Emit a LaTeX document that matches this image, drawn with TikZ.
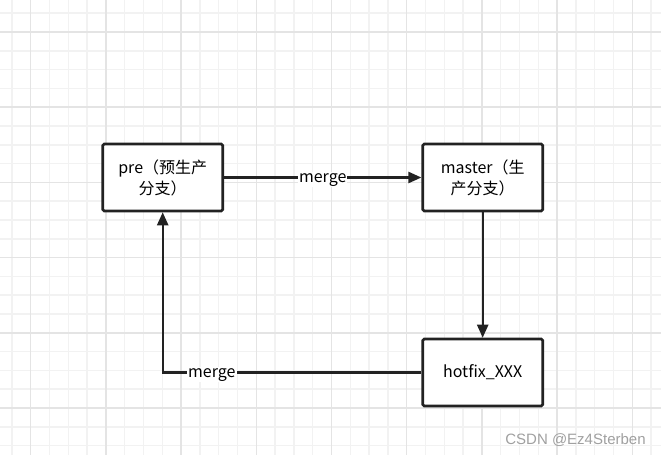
\documentclass[tikz,border=0pt]{standalone}
\usepackage{fontspec}
\setmainfont{Noto Sans CJK SC}
\newfontfamily\markfont{Liberation Sans}
\usetikzlibrary{positioning, arrows.meta}
\definecolor{gridminor}{HTML}{F2F2F2}
\definecolor{gridmajor}{HTML}{E4E4E4}
\definecolor{boxline}{HTML}{222222}
\definecolor{wmgray}{HTML}{A0A0A0}

\begin{document}
\begin{tikzpicture}[x=1pt,y=-1pt,>={Triangle[length=13pt,width=11pt]},
            branch/.style={draw=boxline,line width=2.6pt,rounded corners=1.5pt,
              fill=white,minimum width=120pt,minimum height=67pt,align=center,
              font=\fontsize{16}{21}\selectfont},
            flow/.style={->,draw=boxline,line width=2.4pt},
            lbl/.style={fill=white,inner sep=1pt,anchor=base,yshift=-4.8pt,
              font=\fontsize{16}{19}\selectfont},
            node distance=125.4pt and 197.4pt]
            \useasboundingbox (0,0) rectangle (661,455);
            % background grid
            \foreach \i in {0,...,35} {
              \draw[gridminor,line width=1.5pt] ({11.9+18.8*\i},0) -- ({11.9+18.8*\i},455);
              \draw[gridminor,line width=1.5pt] (0,{13.2+18.8*\i}) -- (661,{13.2+18.8*\i});
            }
            \foreach \i in {0,...,8} {
              \draw[gridmajor,line width=1.5pt] ({30.7+75.2*\i},0) -- ({30.7+75.2*\i},455);
              \draw[gridmajor,line width=1.5pt] (0,{32+75.2*\i}) -- (661,{32+75.2*\i});
            }

            \node[branch] (pre) at (162.7,177.5) {pre（预生产\\分支）};
            \node[branch] (master) [right=of pre] {master（生\\产分支）};
            \node[branch] (hotfix) [below=of master] {hotfix\_XXX};

            \draw[flow] (pre) -- node[lbl] {merge} (master);
            \draw[flow] (master) -- (hotfix);
            \draw[flow] (hotfix) -- node[lbl,pos=0.81] {merge} (hotfix -| pre) -- (pre);

            \node[text=wmgray,font=\markfont\fontsize{15}{17}\selectfont] (mark) at (575.5,440) {CSDN @Ez4Sterben};
\end{tikzpicture}
\end{document}
